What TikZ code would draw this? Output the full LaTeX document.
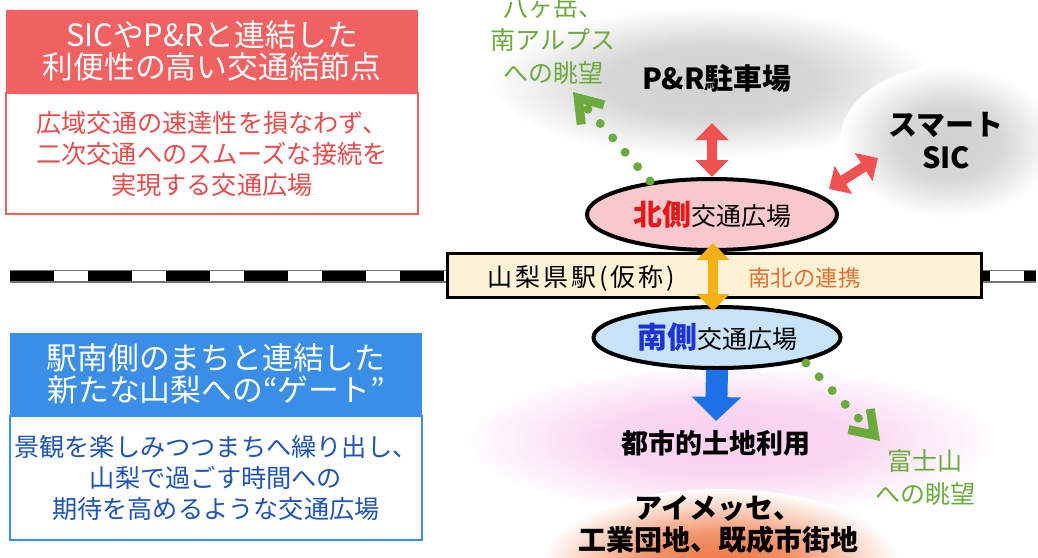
\documentclass[tikz,border=0pt]{standalone}
\usepackage{fontspec}
\setmainfont{Noto Sans CJK JP}
\usetikzlibrary{positioning,shapes.geometric,arrows.meta}

\definecolor{hubred}{RGB}{240,98,98}
\definecolor{hubredtext}{RGB}{230,76,76}
\definecolor{gateblue}{RGB}{58,142,230}
\definecolor{gatebluetext}{RGB}{32,84,178}
\definecolor{viewgreen}{RGB}{108,170,62}
\definecolor{linkorange}{RGB}{245,176,22}
\definecolor{linktext}{RGB}{228,112,50}
\definecolor{stationfill}{RGB}{253,242,212}
\definecolor{northfill}{RGB}{248,200,204}
\definecolor{southfill}{RGB}{200,226,248}
\definecolor{accessred}{RGB}{240,82,82}
\definecolor{landblue}{RGB}{28,112,232}
\definecolor{northred}{RGB}{228,24,24}
\definecolor{southblue}{RGB}{28,52,214}
\definecolor{pinkhaze}{RGB}{248,208,240}
\definecolor{orangehaze}{RGB}{238,118,66}

\pgfdeclareradialshading{grayblob}{\pgfpointorigin}{color(0bp)=(black!18); color(12bp)=(black!16); color(25bp)=(white); color(50bp)=(white)}
\pgfdeclareradialshading{pinkblob}{\pgfpointorigin}{color(0bp)=(pinkhaze); color(12bp)=(pinkhaze!85); color(25bp)=(white); color(50bp)=(white)}
\pgfdeclareradialshading{orangeblob}{\pgfpointorigin}{color(0bp)=(orangehaze); color(10bp)=(orangehaze!80); color(25bp)=(white); color(50bp)=(white)}

\tikzstyle{headbox}   = [rectangle, minimum width=206pt, minimum height=41pt, inner sep=0pt, text=white, align=center, font=\fontsize{15.4pt}{16pt}\selectfont]
\tikzstyle{bodybox}   = [rectangle, draw, line width=1pt, fill=white, minimum width=206pt, inner sep=0pt, align=center, font=\fontsize{12.6pt}{15.5pt}\selectfont]
\tikzstyle{plaza}     = [ellipse, draw, line width=2pt, inner sep=0pt, font=\fontsize{12.5pt}{14pt}\selectfont]
\tikzstyle{blobtext}  = [align=center, inner sep=0pt, font=\bfseries\fontsize{14.5pt}{16.5pt}\selectfont]
\tikzstyle{view}      = [align=center, inner sep=0pt, text=viewgreen, font=\fontsize{12.5pt}{16.5pt}\selectfont]
\tikzstyle{wide}      = [line width=5pt, {Triangle[width=16pt,length=8.5pt]}-{Triangle[width=16pt,length=8.5pt]}]
\tikzstyle{viewarrow} = [viewgreen, line width=4.5pt, line cap=round, dash pattern=on 0pt off 9.5pt, -{Straight Barb[length=11pt,width=15pt]}]

\begin{document}
\begin{tikzpicture}[x=0.5pt,y=-0.5pt]
\useasboundingbox (0,0) rectangle (1038,557);

\path [shade, shading=grayblob] (712,82) ellipse [x radius=112pt, y radius=38pt];
\path [shade, shading=grayblob] (948,142) ellipse [x radius=54pt, y radius=38pt];
\path [shade, shading=pinkblob] (730,440) ellipse [x radius=135pt, y radius=38pt];
\path [shade, shading=orangeblob] (720,565) ellipse [x radius=90pt, y radius=38pt];

\node (nhead) [headbox, fill=hubred] at (212,51) {SICやP\&Rと連結した\\利便性の高い交通結節点};
\node (nbody) [bodybox, draw=hubred, text=hubredtext, minimum height=60.5pt, below=0pt of nhead] {広域交通の速達性を損なわず、\\二次交通へのスムーズな接続を\\実現する交通広場};

\node (shead) [headbox, fill=gateblue] at (216,374) {駅南側のまちと連結した\\新たな山梨への“ゲート”};
\node (sbody) [bodybox, draw=gateblue, text=gatebluetext, minimum height=62pt, below=0pt of shead] {景観を楽しみつつまちへ繰り出し、\\山梨で過ごす時間への\\期待を高めるような交通広場};

\coordinate (railw) at (10,276);
\coordinate (raile) at (1036,276);
\draw [line width=6.5pt, black!55] (railw) -- (raile);
\draw [line width=5pt, white] (railw) -- (raile);
\draw [line width=5pt, dash pattern=on 22pt off 17pt] (railw) -- (raile);

\node (station) [rectangle, draw, line width=1.5pt, fill=stationfill, minimum width=267pt, minimum height=22pt, inner sep=0pt] at (714.5,275.5) {};
\node (stname) [inner sep=0pt, anchor=west, font=\fontsize{12.5pt}{14pt}\selectfont\addfontfeature{LetterSpace=12}] at (487,278) {山梨県駅(仮称)};
\node (linklabel) [inner sep=0pt, anchor=west, text=linktext, font=\fontsize{11.2pt}{13pt}\selectfont] at (748,278) {南北の連携};

\node (north) [plaza, fill=northfill, minimum width=125pt, minimum height=35.5pt] at (712,214.5) {\textcolor{northred}{\bfseries\fontsize{14.5pt}{16pt}\selectfont 北側}交通広場};
\node (south) [plaza, fill=southfill, minimum width=123.5pt, minimum height=30.5pt] at (717,337.5) {\textcolor{southblue}{\bfseries\fontsize{15pt}{16pt}\selectfont 南側}交通広場};

\node (park) [blobtext] at (717,78) {P\&R駐車場};
\node (sic) [blobtext] at (946,141) {スマート\\SIC};
\node (land) [blobtext, font=\bfseries\fontsize{13.5pt}{15pt}\selectfont] at (716,443) {都市的土地利用};
\node (messe) [blobtext, font=\bfseries\fontsize{14pt}{16pt}\selectfont] at (718,524) {アイメッセ、\\工業団地、既成市街地};
\node (yatsu) [view] at (553,40) {八ヶ岳、\\南アルプス\\への眺望};
\node (fuji) [view] at (925,478) {富士山\\への眺望};

\coordinate (parkend) at (712,123);
\coordinate (sicstart) at (829,189);
\coordinate (sicend) at (878,158);
\coordinate (linkn) at (713,243);
\coordinate (links) at (713,311);
\coordinate (landend) at (716,421);
\coordinate (yatsustart) at (650,181);
\coordinate (yatsuend) at (573,92);
\coordinate (fujistart) at (806,363);
\coordinate (fujiend) at (880,441);

\draw [wide, accessred] (north.north) -- (parkend);
\draw [wide, accessred] (sicstart) -- (sicend);
\draw [wide, linkorange] (linkn) -- (links);
\draw [landblue, line width=11pt, -{Triangle[width=24pt,length=12pt]}] (south.south) -- (landend);
\draw [viewarrow] (yatsustart) -- (yatsuend);
\draw [viewarrow] (fujistart) -- (fujiend);
\end{tikzpicture}
\end{document}
